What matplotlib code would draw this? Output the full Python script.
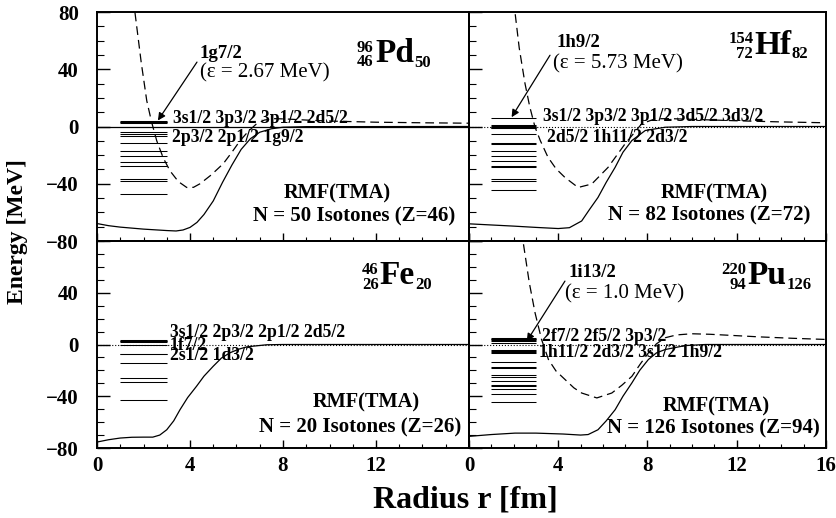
import matplotlib
matplotlib.use("Agg")
import matplotlib.pyplot as plt
from matplotlib.ticker import MultipleLocator

plt.rcParams["font.family"] = ["Liberation Serif", "DejaVu Serif"]
plt.rcParams["font.weight"] = "bold"

# --- 96Pd (N=50) ---
pd_r = [0, 0.5, 1.0, 1.5, 2.0, 2.5, 3.0, 3.4, 3.7, 4.0, 4.3, 4.6, 5.0, 5.4, 5.8, 6.2, 6.6, 7.0, 7.5, 8.0, 9.0, 16]
pd_v = [-67.8, -69.3, -70.3, -71.0, -71.7, -72.2, -72.7, -73.0, -72.3, -70.5, -67.0, -61.5, -52.0, -39.0, -27.0, -16.0,
        -8.5, -4.0, -1.6, -0.5, -0.1, 0]
pd_dash_r = [1.55, 1.63, 1.9, 2.14, 2.35, 2.57, 2.85, 3.14, 3.5, 3.86, 4.15, 4.43, 4.9, 5.43, 5.8, 6.15, 6.5, 6.87,
             7.2, 7.6, 8.2, 9.0, 10.0, 12.0, 14.0, 16.0]
pd_dash_v = [90, 80, 45, 18, 3, -10, -22, -31, -38.5, -42.6, -42.5, -40, -34, -26, -18, -10, -3.5, 2, 4.5, 5.5,
             5.2, 4.5, 3.8, 3.0, 2.6, 2.3]
pd_levels = [3.6, 3.3, 3.0, 2.67, -4.0, -5.1, -6.5, -11.7, -16.8, -20.4, -25.0, -27.8, -37.0, -37.8, -47.3]

# --- 154Hf (N=82) ---
hf_r = [0, 1.0, 2.0, 3.0, 4.0, 4.5, 5.05, 5.4, 5.78, 6.15, 6.55, 6.9, 7.3, 7.9, 8.8, 10.0, 16]
hf_v = [-68.0, -68.8, -69.6, -70.5, -71.3, -70.7, -66.0, -58.0, -49.6, -39.0, -28.5, -18.0, -9.8, -2.8, -0.5, 0, 0]
hf_dash_r = [2.0, 2.06, 2.25, 2.51, 2.72, 2.96, 3.2, 3.54, 3.9, 4.3, 4.89, 5.5, 6.23, 7.0, 7.74, 8.34, 9.0, 10.0,
             12.0, 14.0, 16.0]
hf_dash_v = [88, 80, 55, 30, 14, -0.5, -10, -21.5, -29.5, -35.6, -42.6, -40.2, -28.6, -12, 1.9, 5.4, 5.5, 5.0,
             4.0, 3.2, 2.6]
hf_levels = [5.73, 0.8, 0.4, 0.0, -0.4, -0.8, -1.2, -5.1, -11.3, -12.1, -17.3, -20.4, -24.3, -27.3, -28.6, -37.0,
             -37.8, -44.4]

# --- 46Fe (N=20) ---
fe_r = [0, 0.5, 1.0, 1.5, 2.0, 2.4, 2.7, 3.0, 3.3, 3.57, 3.9, 4.28, 4.6, 5.0, 5.35, 5.72, 6.1, 6.45, 7.3, 8.0, 16]
fe_v = [-75.4, -73.6, -72.3, -71.7, -71.6, -71.6, -70.0, -65.9, -59.0, -50.4, -41.0, -32.3, -24.5, -16.8, -10.5,
        -6.4, -3.6, -1.8, -0.2, 0, 0]
fe_levels = [3.1, 2.8, 2.5, 2.2, -0.6, -7.0, -7.5, -14.2, -25.8, -28.9, -42.6]

# --- 220Pu (N=126) ---
pu_r = [0, 1.0, 2.06, 3.0, 4.22, 5.0, 5.34, 5.78, 6.15, 6.55, 6.9, 7.3, 7.65, 8.04, 8.4, 8.79, 9.7, 10.6, 16]
pu_v = [-71.0, -69.6, -68.5, -68.5, -69.2, -70.0, -69.6, -65.9, -59.0, -50.4, -40.0, -29.7, -20.0, -11.6, -6.5,
        -3.9, -0.8, 0, 0]
pu_dash_r = [2.35, 2.42, 2.7, 2.96, 3.25, 3.56, 3.9, 4.3, 4.7, 5.05, 5.73, 6.4, 6.85, 7.3, 7.7, 8.04, 8.4, 8.79,
             9.3, 9.99, 10.8, 11.8, 13.0, 14.5, 16.0]
pu_dash_v = [88, 80, 48, 24.5, 4, -11.6, -20.5, -27, -33.5, -37.5, -41.3, -37.5, -31.5, -24.6, -14.5, -6.5, 0.5,
             5.2, 7.4, 8.3, 7.9, 7.0, 5.9, 4.8, 3.9]
pu_levels = [5.3, 4.6, 3.9, 3.2, 2.6, 1.0, -4.4, -5.2, -6.0, -6.6, -13.4, -17.2, -17.9, -23.3, -25.3, -27.9,
             -31.2, -31.8, -34.4, -38.0, -44.2]

fig = plt.figure(figsize=(8.36, 5.18), dpi=100)
W, H = 836.0, 518.0


def make_ax(x0, x1, y0, y1):
    return fig.add_axes([x0 / W, 1 - y1 / H, (x1 - x0) / W, (y1 - y0) / H])


ax_pd = make_ax(97, 469, 12, 241)
ax_hf = make_ax(469, 826, 12, 241)
ax_fe = make_ax(97, 469, 241, 448)
ax_pu = make_ax(469, 826, 241, 448)

for ax in [ax_pd, ax_hf, ax_fe, ax_pu]:
    ax.set_xlim(0, 16)
    ax.set_ylim(-80, 80)
    ax.xaxis.set_major_locator(MultipleLocator(4))
    ax.xaxis.set_minor_locator(MultipleLocator(1))
    ax.yaxis.set_major_locator(MultipleLocator(40))
    ax.yaxis.set_minor_locator(MultipleLocator(10))
    ax.tick_params(axis="both", which="both", direction="in", top=False, right=False, labelsize=15)
    ax.tick_params(axis="y", which="major", length=9, width=1, pad=13)
    ax.tick_params(axis="y", which="minor", length=5, width=0.8)
    ax.tick_params(axis="x", which="major", length=6, width=1, pad=6)
    ax.tick_params(axis="x", which="minor", length=3, width=0.8)
    for s in ax.spines.values():
        s.set_linewidth(1.4)
    ax.set_facecolor("none")

ax_pd.tick_params(labelbottom=False)
ax_hf.tick_params(labelbottom=False, labelleft=False)
ax_pu.tick_params(labelleft=False)
ax_fe.set_yticks([-80, -40, 0, 40])
ax_fe.set_xticks([0, 4, 8, 12])

# potentials
ax_pd.plot(pd_r, pd_v, color="k", lw=0.9)
ax_pd.plot(pd_dash_r, pd_dash_v, color="k", lw=0.9, dashes=(7, 4))
ax_pd.axhline(0, color="k", lw=0.9)

ax_hf.plot(hf_r, hf_v, color="k", lw=0.9)
ax_hf.plot(hf_dash_r, hf_dash_v, color="k", lw=0.9, dashes=(7, 4))
ax_hf.axhline(0, color="k", lw=0.8, ls=":")

ax_fe.plot(fe_r, fe_v, color="k", lw=0.9)
ax_fe.axhline(0, color="k", lw=0.8, ls=":")

ax_pu.plot(pu_r, pu_v, color="k", lw=0.9)
ax_pu.plot(pu_dash_r, pu_dash_v, color="k", lw=0.9, dashes=(7, 4))
ax_pu.axhline(0, color="k", lw=0.8, ls=":")

# single particle levels
for ax, lev in [(ax_pd, pd_levels), (ax_hf, hf_levels), (ax_fe, fe_levels), (ax_pu, pu_levels)]:
    ax.hlines(lev, 1, 3, color="k", lw=0.75)

lab = dict(fontsize=12.7, fontweight="bold", va="center", ha="left")
ax_pd.text(3.27, 5.6, "3s1/2 3p3/2 3p1/2 2d5/2", **lab)
ax_pd.text(3.23, -7.7, "2p3/2 2p1/2 1g9/2", **lab)
ax_hf.text(3.33, 7.2, "3s1/2 3p3/2 3p1/2 3d5/2 3d3/2", **lab)
ax_hf.text(3.48, -7.5, "2d5/2 1h11/2 2d3/2", **lab)
ax_fe.text(3.14, 9.0, "3s1/2 2p3/2 2p1/2 2d5/2", **lab)
ax_fe.text(3.14, -0.8, "1f7/2", **lab)
ax_fe.text(3.14, -8.5, "2s1/2 1d3/2", **lab)
ax_pu.text(3.26, 6.0, "2f7/2 2f5/2 3p3/2", **lab)
ax_pu.text(3.14, -6.5, "1h11/2 2d3/2 3s1/2 1h9/2", **lab)

# resonance annotations
arrow = dict(arrowstyle="-|>", color="k", lw=0.9, mutation_scale=11, shrinkA=0, shrinkB=0)
for ax, name, eps, tx, ty, ex, ey, start, end in [
    (ax_pd, "1g7/2", "(\u03b5 = 2.67 MeV)", 4.43, 51, 4.43, 37.5, (4.3, 45), (2.62, 4.2)),
    (ax_hf, "1h9/2", "(\u03b5 = 5.73 MeV)", 3.93, 59, 3.77, 44, (3.63, 49.8), (1.91, 6.5)),
    (ax_pu, "1i13/2", "(\u03b5 = 1.0 MeV)", 4.45, 55.6, 4.3, 39.5, (4.3, 49), (2.59, 2.6)),
]:
    ax.text(tx, ty, name, fontsize=13.5, fontweight="bold", va="center", ha="left")
    ax.text(ex, ey, eps, fontsize=15, fontweight="normal", va="center", ha="left")
    ax.annotate("", xy=end, xytext=start, arrowprops=arrow)


def nucleus(ax, x, y, a, z, sym, n, sym_w):
    ax.text(x, y, sym, fontsize=24, fontweight="bold", ha="left", va="baseline")
    ax.annotate(a, (x, y), xytext=(-1, 7.5), textcoords="offset points", fontsize=12, fontweight="bold",
                ha="right", va="baseline")
    ax.annotate(z, (x, y), xytext=(-1, -3), textcoords="offset points", fontsize=12, fontweight="bold",
                ha="right", va="baseline")
    ax.annotate(n, (x, y), xytext=(sym_w, -3.5), textcoords="offset points", fontsize=12, fontweight="bold",
                ha="left", va="baseline")


nucleus(ax_pd, 11.96, 45, "96", "46", "Pd", "50", 28)
nucleus(ax_hf, 12.8, 51, "154", "72", "Hf", "82", 26.7)
nucleus(ax_fe, 12.17, 46.5, "46", "26", "Fe", "20", 25.3)
nucleus(ax_pu, 12.5, 46.5, "220", "94", "Pu", "126", 28)

for ax, rx, ry, nx, ny, txt in [
    (ax_pd, 10.34, -46.8, 11.05, -63, "N = 50 Isotones (Z=46)"),
    (ax_hf, 10.98, -47, 10.76, -62.5, "N = 82 Isotones (Z=72)"),
    (ax_fe, 11.6, -45, 11.3, -63.8, "N = 20 Isotones (Z=26)"),
    (ax_pu, 11.1, -47.8, 10.95, -65, "N = 126 Isotones (Z=94)"),
]:
    ax.text(rx, ry, "RMF(TMA)", fontsize=14.7, fontweight="bold", ha="center", va="center")
    ax.text(nx, ny, txt, fontsize=15, fontweight="bold", ha="center", va="center")

fig.text(18 / W, 1 - 232 / H, "Energy [MeV]", rotation=90, fontsize=17, fontweight="bold", ha="center", va="center")
fig.text(465 / W, 1 - 500 / H, "Radius r [fm]", fontsize=23, fontweight="bold", ha="center", va="center")

fig.savefig("out.png", dpi=100)
